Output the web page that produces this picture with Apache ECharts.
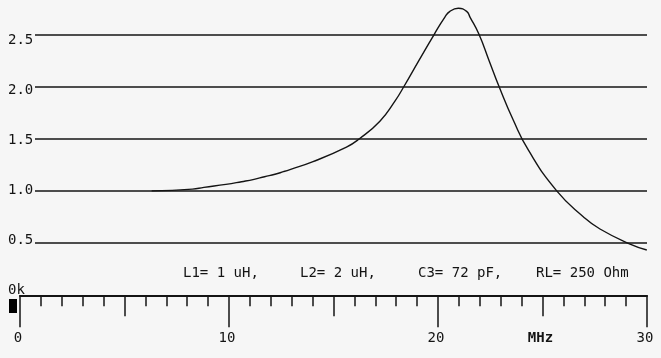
<!DOCTYPE html>
<html>
<head>
<meta charset="utf-8">
<script src="https://cdn.jsdelivr.net/npm/echarts@6/dist/echarts.min.js"></script>
<style>
html,body{margin:0;padding:0;background:#f6f6f6;}
#c{width:661px;height:358px;}
</style>
</head>
<body>
<div id="c"></div>
<script>
// Frequency (MHz) and response ratio
const freqMHz = [6.3, 8.25, 8.8, 9.85, 10.6, 11.2, 11.7, 12.2, 12.6, 12.95, 14.02, 15.62, 16.21, 17.22, 17.94, 18.37, 19.09, 19.82, 20.33, 20.57, 20.97, 21.37, 21.53, 21.96, 22.45, 22.92, 23.6, 24.32, 25.68, 26.95, 27.75, 29.19, 29.99];
const ratio   = [1.00, 1.017, 1.034, 1.062, 1.088, 1.111, 1.136, 1.159, 1.184, 1.207, 1.28, 1.42, 1.495, 1.668, 1.86, 2.0, 2.25, 2.5, 2.665, 2.72, 2.749, 2.72, 2.665, 2.5, 2.245, 2.0, 1.679, 1.392, 1.0, 0.753, 0.635, 0.491, 0.434];

// Tick labels
const xLabelValues = [0, 10, 20, 25, 30];
const xLabelTexts  = ['0', '10', '20', 'MHz', '30'];
const yLabelValues = [0, 0.5, 1.0, 1.5, 2.0, 2.5];
const yLabelTexts  = ['0k', '0.5', '1.0', '1.5', '2.0', '2.5'];

// Circuit parameters caption
const paramTexts = ['L1= 1 uH,', 'L2= 2 uH,', 'C3= 72 pF,', 'RL= 250 Ohm'];

const FONT = '"DejaVu Sans Mono", "Liberation Mono", monospace';
const INK = '#141414';

const data = freqMHz.map((f, i) => [f, ratio[i]]);

const chart = echarts.init(document.getElementById('c'), null, {renderer: 'canvas'});

const paramX = [183, 300, 418, 536];

chart.setOption({
  backgroundColor: '#f6f6f6',
  animation: false,
  grid: [
    {left: 20, right: 14, top: 34.3, bottom: 62.7},   // data
    {left: 35, right: 14, top: 34.3, bottom: 62.7},   // horizontal rules
    {left: 35, right: 14, top: 40, bottom: 68}        // y labels (character grid)
  ],
  xAxis: [
    {
      gridIndex: 0, type: 'value', min: 0, max: 30, interval: 10, position: 'bottom',
      axisLine: {show: true, onZero: false, lineStyle: {color: INK, width: 2}},
      axisTick: {show: true, length: 32, lineStyle: {color: INK, width: 1.5}},
      axisLabel: {show: false},
      splitLine: {show: false}
    },
    {
      gridIndex: 0, type: 'value', min: 0, max: 30, interval: 5, position: 'bottom',
      axisLine: {show: false, onZero: false},
      axisTick: {show: true, length: 21, lineStyle: {color: INK, width: 1.5}},
      minorTick: {show: true, splitNumber: 5, length: 11, lineStyle: {color: INK, width: 1.5}},
      axisLabel: {
        show: true, margin: 36, color: INK, fontFamily: FONT, fontSize: 14,
        padding: [0, 4, 0, 0],
        formatter: function (v) {
          const i = xLabelValues.indexOf(v);
          if (i < 0) return '';
          return xLabelTexts[i] === 'MHz' ? '{b|MHz}' : xLabelTexts[i];
        },
        rich: {b: {fontFamily: FONT, fontSize: 14, fontWeight: 'bold', color: INK}}
      },
      splitLine: {show: false}
    },
    {gridIndex: 1, type: 'value', min: 0, max: 30, show: false},
    {gridIndex: 2, type: 'value', min: 0, max: 30, show: false}
  ],
  yAxis: [
    {gridIndex: 0, type: 'value', min: 0, max: 2.5, show: false},
    {
      gridIndex: 1, type: 'value', min: 0, max: 2.5, interval: 0.5,
      axisLine: {show: false}, axisTick: {show: false}, axisLabel: {show: false},
      splitLine: {show: true, lineStyle: {color: INK, width: 1.6}}
    },
    {
      gridIndex: 2, type: 'value', min: 0, max: 2.5, interval: 0.5,
      axisLine: {show: false}, axisTick: {show: false}, splitLine: {show: false},
      axisLabel: {
        show: true, align: 'left', margin: 27, color: INK, fontFamily: FONT, fontSize: 14,
        formatter: function (v) {
          const i = yLabelValues.findIndex(t => Math.abs(t - v) < 1e-9);
          return i < 0 ? '' : yLabelTexts[i];
        }
      }
    }
  ],
  series: [
    {
      type: 'line', xAxisIndex: 0, yAxisIndex: 0, data: data, clip: false,
      smooth: 0.5, showSymbol: false, silent: true,
      lineStyle: {color: INK, width: 1.4}
    }
  ],
  graphic: [
    {type: 'rect', shape: {x: 9, y: 299, width: 8, height: 14}, style: {fill: '#000'}}
  ].concat(paramTexts.map((t, i) => ({
    type: 'text', x: paramX[i], y: 273,
    style: {text: t, fill: INK, font: '14px ' + FONT, verticalAlign: 'middle', align: 'left'}
  })))
});
</script>
</body>
</html>
